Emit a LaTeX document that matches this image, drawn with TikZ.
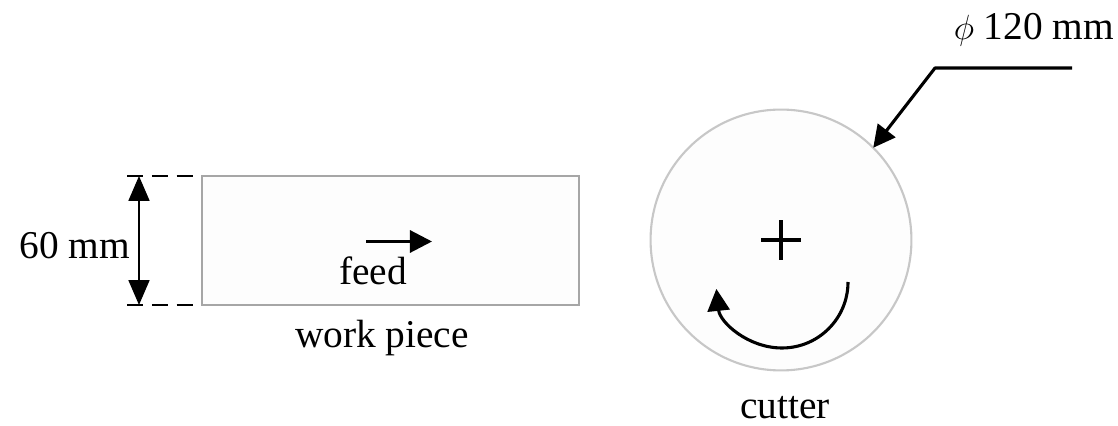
\documentclass[tikz,border=0pt]{standalone}
\usepackage{fontspec}
\setmainfont{Liberation Serif}
\usetikzlibrary{arrows.meta}
\tikzset{
  outline/.style={draw=black!35,fill=black!0.7,line width=1.5pt,inner sep=0pt,outer sep=0pt},
  lbl/.style={font=\fontsize{28}{32}\selectfont,inner sep=0pt},
  pointer/.style={line width=2.2pt,line join=round,-{Triangle[length=0.55cm,width=0.55cm]}},
  tick/.style={line width=1.8pt,dash pattern=on 0.4cm off 0.22cm},
}
\begin{document}
\begin{tikzpicture}[x=0.025cm,y=0.025cm]
  \useasboundingbox (0,0) rectangle (1118,426);
  % work piece
  \node[outline,minimum width=9.42cm,minimum height=3.22cm] at (390.5,185.5) (workpiece) {};
  \node[lbl] at (382,88) (wplabel) {work piece};
  \node[lbl] at (373,155) (feedlabel) {feed};
  \coordinate (feedstart) at (366,184.5);
  \coordinate (feedend) at (432,184.5);
  \draw[pointer] (feedstart) -- (feedend);
  % 60 mm dimension
  \coordinate (uptick) at (127,250);
  \coordinate (upstop) at (194,250);
  \coordinate (lowtick) at (127,121);
  \coordinate (lowstop) at (194,121);
  \coordinate (upend) at (139,250);
  \coordinate (lowend) at (139,121);
  \draw[tick] (uptick) -- (upstop);
  \draw[tick] (lowtick) -- (lowstop);
  \draw[line width=1.5pt,{Triangle[length=0.62cm,width=0.52cm]}-{Triangle[length=0.62cm,width=0.52cm]}] (upend) -- (lowend);
  \node[lbl] at (75,180) (dimlabel) {60 mm};
  % cutter
  \node[outline,draw=black!22,circle,minimum size=6.52cm] at (781,186) (cutter) {};
  \node[lbl] at (785,18) (cutlabel) {cutter};
  \draw[line width=2.2pt] ([xshift=-0.5cm]cutter.center) -- ([xshift=0.5cm]cutter.center);
  \draw[line width=2.2pt] ([yshift=-0.5cm]cutter.center) -- ([yshift=0.5cm]cutter.center);
  \coordinate (rotstart) at (848,144);
  \draw[pointer] (rotstart) arc (0:-174:66);
  % diameter callout
  \node[lbl] at (1034,396) (diamlabel) {$\phi$ 120 mm};
  \coordinate (leadstart) at (1072,358);
  \coordinate (leadknee) at (935,358);
  \draw[pointer] (leadstart) -- (leadknee) -- (cutter.45);
\end{tikzpicture}
\end{document}
